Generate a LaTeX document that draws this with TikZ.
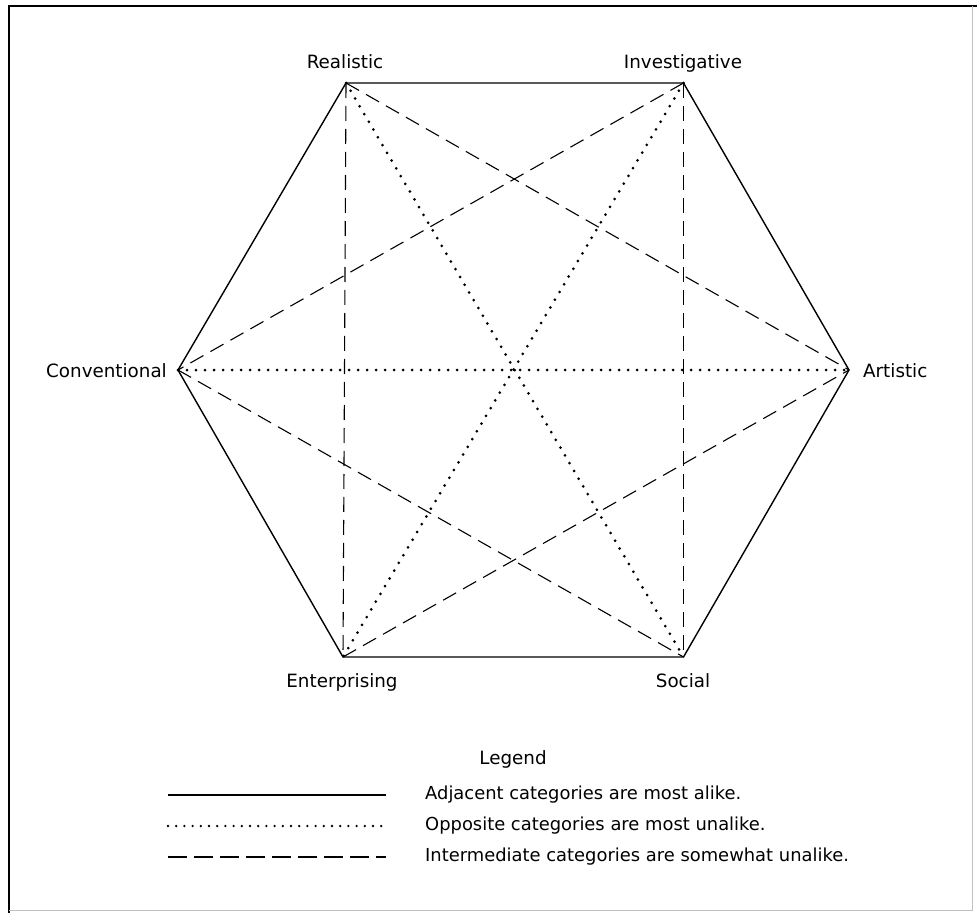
\documentclass[tikz,border=0pt]{standalone}
\usepackage{fontspec}
\setmainfont{DejaVu Sans}
\begin{document}
\begin{tikzpicture}[x=1pt,y=-1pt,
  adjacent/.style={line width=1.4pt},
  opposite/.style={line width=3pt,line cap=round,dash pattern=on 0pt off 9pt},
  intermediate/.style={line width=1.1pt,dash pattern=on 15pt off 8pt},
  lab/.style={font=\fontsize{18.3}{21}\selectfont,inner sep=0pt},
  legtext/.style={font=\fontsize{17.9}{21}\selectfont,inner sep=0pt,anchor=base west}]
% page and frame
\useasboundingbox (0,0) rectangle (977,915);
\fill[white] (0,0) rectangle (977,915);
\draw[line width=2.5pt] (9,913) -- (9,6) -- (977,6);
\draw[line width=0.8pt,black!25] (9,910) -- (972,910) -- (972,6);
% the six categories
\coordinate (R) at (346,83);
\coordinate (I) at (683.5,83);
\coordinate (A) at (849,370);
\coordinate (S) at (683.5,657);
\coordinate (E) at (343,657);
\coordinate (C) at (178,370);
\node[lab,anchor=base] (Rl) at (345,69) {Realistic};
\node[lab,anchor=base] (Il) at (683,69) {Investigative};
\node[lab,anchor=base west] (Al) at (863,377) {Artistic};
\node[lab,anchor=base] (Sl) at (683,687) {Social};
\node[lab,anchor=base] (El) at (342,687) {Enterprising};
\node[lab,anchor=base east] (Cl) at (167,377) {Conventional};
% adjacent pairs
\draw[adjacent] (R) -- (I) -- (A) -- (S) -- (E) -- (C) -- cycle;
% opposite pairs
\draw[opposite] (R) -- (S);
\draw[opposite] (I) -- (E);
\draw[opposite] (C) -- (A);
% intermediate pairs
\draw[intermediate] (R) -- (E);
\draw[intermediate] (R) -- (A);
\draw[intermediate] (I) -- (S);
\draw[intermediate] (I) -- (C);
\draw[intermediate] (C) -- (S);
\draw[intermediate] (E) -- (A);
% legend
\node[lab,anchor=base] (leg) at (513,764) {Legend};
\coordinate (l1a) at (168,795); \coordinate (l1b) at (386,795);
\coordinate (l2a) at (168,826); \coordinate (l2b) at (386,826);
\coordinate (l3a) at (168,857); \coordinate (l3b) at (386,857);
\draw[adjacent] (l1a) -- (l1b);
\draw[opposite,line width=2.6pt,dash pattern=on 0pt off 8.2pt] (l2a) -- (l2b);
\draw[intermediate,line width=1.4pt,dash pattern=on 19pt off 7pt] (l3a) -- (l3b);
\node[legtext] (t1) at (425,799) {Adjacent categories are most alike.};
\node[legtext] (t2) at (425,830) {Opposite categories are most unalike.};
\node[legtext] (t3) at (425,861) {Intermediate categories are somewhat unalike.};
\end{tikzpicture}
\end{document}
